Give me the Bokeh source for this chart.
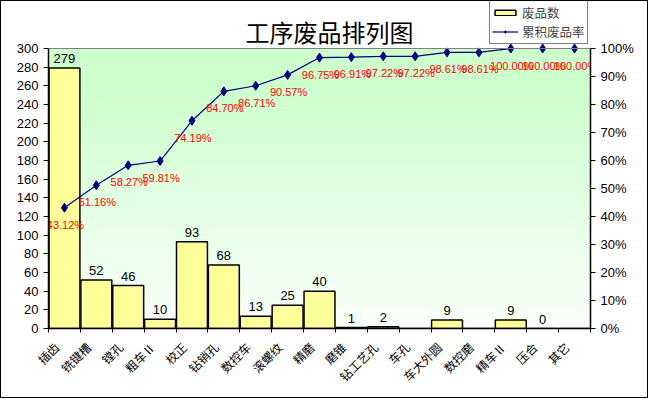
import numpy as np
from bokeh.plotting import figure
from bokeh.models import (Range1d, LinearAxis, FixedTicker, NumeralTickFormatter,
                          Legend, LegendItem, Label, Span, ColumnDataSource)
from bokeh.core.properties import value
from bokeh.embed import file_html
from bokeh.resources import INLINE

# ---------------- data ----------------
categories = ["插齿", "铣键槽", "镗孔", "粗车Ⅱ", "校正", "钻销孔", "数控车", "滚螺纹", "精磨",
              "磨锥", "钻工艺孔", "车孔", "车大外圆", "数控磨", "精车Ⅱ", "压合", "其它"]
counts = [279, 52, 46, 10, 93, 68, 13, 25, 40, 1, 2, 0, 9, 0, 9, 0, 0]
count_labels = ["279", "52", "46", "10", "93", "68", "13", "25", "40",
                "1", "2", "", "9", "", "9", "0", ""]
left_ticks = [0, 20, 40, 60, 80, 100, 120, 140, 160, 180, 200, 220, 240, 260, 280, 300]
right_ticks = [0.0, 0.1, 0.2, 0.3, 0.4, 0.5, 0.6, 0.7, 0.8, 0.9, 1.0]
title_text = "工序废品排列图"
legend_bar = "废品数"
legend_line = "累积废品率"

COUNT_MAX = 300
PCT_MAX = 1.0

# ---------------- derived ----------------
xs = list(range(len(categories)))
cum = np.cumsum(counts) / float(sum(counts))
pct_labels = ["%.2f%%" % (c * 100) for c in cum]

src = ColumnDataSource(dict(x=xs, counts=counts, clab=count_labels,
                            cum=list(cum), plab=pct_labels))

CJK = "Noto Sans CJK SC"
NUM = "Liberation Sans"
BAR_FILL = "#FFFF99"
LINE_COL = "#000080"

# plot area is 280 px tall for 0..300; the frame reaches up to the top edge
# so the title and legend drawn inside it are not clipped
PLOT_H = 280.0
TOP_EXTRA = 47.0
ymax = COUNT_MAX * (PLOT_H + TOP_EXTRA) / PLOT_H
pmax = PCT_MAX * (PLOT_H + TOP_EXTRA) / PLOT_H

p = figure(width=648, height=398, output_backend="svg", toolbar_location=None,
           x_range=Range1d(-0.5, len(categories) - 0.5), y_range=Range1d(0, ymax),
           min_border_left=47, min_border_right=59, min_border_top=0, min_border_bottom=71,
           tools="")
p.styles = {"border": "1px solid black"}
p.xaxis.visible = False
p.yaxis.visible = False
p.xgrid.visible = False
p.ygrid.visible = False
p.outline_line_color = None
p.background_fill_color = "white"
p.border_fill_color = "white"
p.extra_y_ranges = {"pct": Range1d(0, pmax)}

# background gradient of the plot area (decorative)
n = 300
img = np.zeros((n, 1), dtype=np.uint32)
view = img.view(dtype=np.uint8).reshape((n, 1, 4))
for i in range(n):
    f = min(1.0, i / (0.88 * n))
    rb = int(round(250 - 46 * f))
    view[i, 0, 0] = rb
    view[i, 0, 1] = 255
    view[i, 0, 2] = rb
    view[i, 0, 3] = 255
p.image_rgba(image=[img], x=-0.5, y=0, dw=len(categories), dh=COUNT_MAX)
p.add_layout(Span(location=COUNT_MAX, dimension="width", line_color="#808080", line_width=1))

bars = p.vbar(x="x", top="counts", width=0.97, bottom=0, source=src,
              fill_color=BAR_FILL, line_color="black", line_width=1.5)
p.text(x="x", y="counts", text="clab", source=src, y_offset=-5,
       text_align="center", text_baseline="bottom",
       text_font=value(NUM), text_font_size="13px", text_color="black")

ln = p.line(x="x", y="cum", source=src, y_range_name="pct", line_color=LINE_COL, line_width=1.2)
sc = p.scatter(x="x", y="cum", source=src, y_range_name="pct", marker="diamond",
               size=9, fill_color=LINE_COL, line_color=LINE_COL)
p.text(x="x", y="cum", text="plab", source=src, y_range_name="pct", y_offset=17, x_offset=1,
       text_align="center", text_baseline="middle",
       text_font=value(NUM), text_font_size="11px", text_color="red")

# axes
LABEL_SHIFT = 0.25
label_ticks = [i - LABEL_SHIFT for i in xs]
xaxis = LinearAxis(ticker=FixedTicker(ticks=label_ticks,
                                      minor_ticks=[i - 0.5 for i in range(len(categories) + 1)]),
                   major_label_overrides={t: c for t, c in zip(label_ticks, categories)})
xaxis.major_label_orientation = np.pi / 4
xaxis.major_tick_out = 0
xaxis.major_tick_in = 0
xaxis.minor_tick_out = 4
xaxis.minor_tick_in = 0
xaxis.minor_tick_line_color = "black"
xaxis.axis_line_color = "black"
xaxis.axis_line_width = 1.5
xaxis.major_label_text_font = CJK
xaxis.major_label_text_font_size = "12px"
xaxis.major_label_text_color = "black"
xaxis.major_label_standoff = 12
p.add_layout(xaxis, "below")

yaxis = LinearAxis(ticker=FixedTicker(ticks=left_ticks), bounds=(0, COUNT_MAX))
yaxis.major_tick_out = 5
yaxis.major_tick_in = 0
yaxis.minor_tick_line_color = None
yaxis.axis_line_color = "black"
yaxis.axis_line_width = 1.5
yaxis.major_label_text_font = NUM
yaxis.major_label_text_font_size = "13px"
yaxis.major_label_text_color = "black"
yaxis.major_label_standoff = 5
p.add_layout(yaxis, "left")

raxis = LinearAxis(y_range_name="pct", ticker=FixedTicker(ticks=right_ticks),
                   formatter=NumeralTickFormatter(format="0%"), bounds=(0, PCT_MAX))
raxis.major_tick_out = 5
raxis.major_tick_in = 0
raxis.minor_tick_line_color = None
raxis.axis_line_color = "black"
raxis.axis_line_width = 1.5
raxis.major_label_text_font = NUM
raxis.major_label_text_font_size = "13px"
raxis.major_label_text_color = "black"
raxis.major_label_standoff = 5
p.add_layout(raxis, "right")

title = Label(x=281, y=297, x_units="screen", y_units="screen", text=title_text,
              text_align="center", text_baseline="middle", text_font=CJK,
              text_font_size="24px", text_color="black")
p.add_layout(title)

legend = Legend(items=[LegendItem(label=legend_bar, renderers=[bars]),
                       LegendItem(label=legend_line, renderers=[ln, sc])],
                location=(441, 284))
legend.border_line_color = "black"
legend.border_line_width = 1
legend.background_fill_color = "white"
legend.background_fill_alpha = 1
legend.label_text_font = CJK
legend.label_text_font_size = "12.5px"
legend.label_text_line_height = 1.0
legend.glyph_width = 26
legend.glyph_height = 7
legend.label_height = 14
legend.label_standoff = 4
legend.spacing = 0
legend.padding = 2
legend.margin = 0
p.add_layout(legend)

open("out.html", "w").write(file_html(p, INLINE))
